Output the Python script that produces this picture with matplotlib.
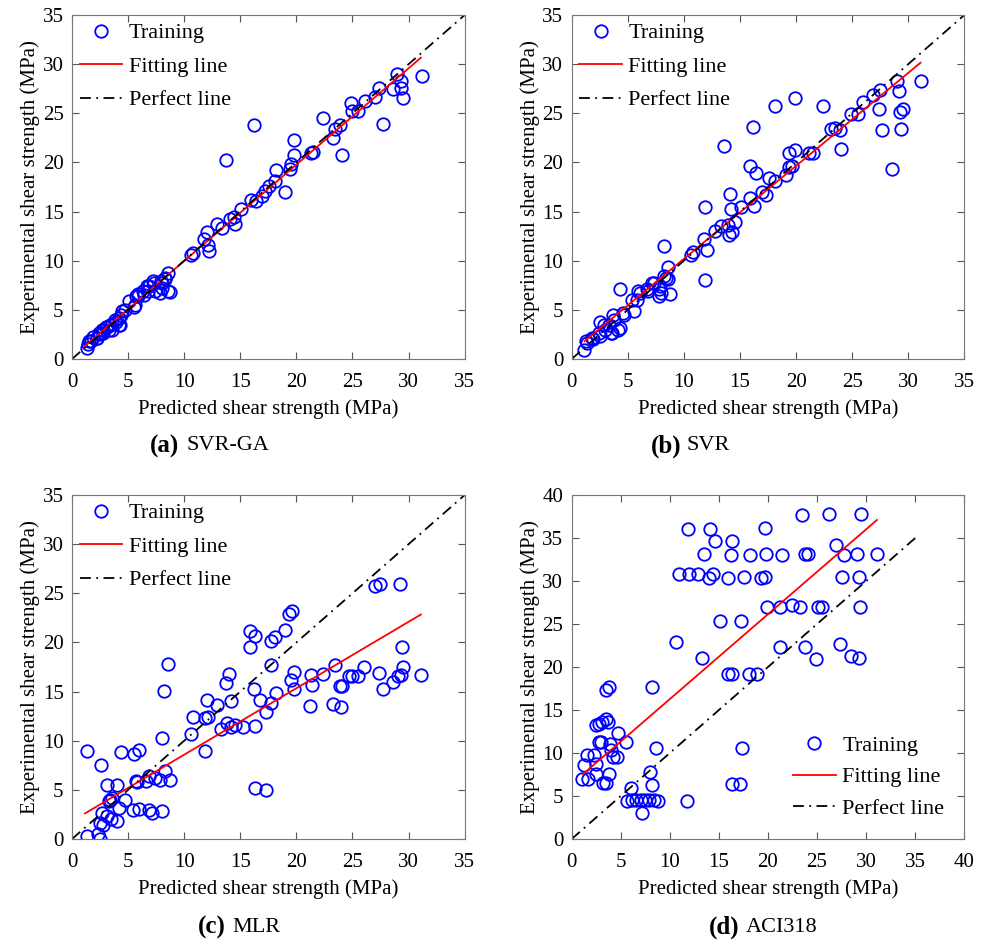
import numpy as np
import matplotlib.pyplot as plt

plt.rcParams['font.family'] = ['Liberation Serif', 'DejaVu Serif']

# (a) SVR-GA
x_svrga = [31.2, 29.0, 29.35, 29.35, 29.5, 28.6, 27.4, 27.0, 27.7, 26.1, 24.9, 25.5, 25.0,
           22.4, 24.1, 23.4, 23.9, 23.3, 21.5, 21.3, 19.8, 19.8, 19.5, 19.4, 19.0, 18.2,
           18.1, 17.6, 17.2, 16.9, 16.2, 16.4, 16.0, 15.1, 14.4, 14.5, 14.1, 13.7, 13.4,
           12.9, 12.0, 11.8, 12.1, 12.2, 10.8, 10.6, 8.6, 8.7, 8.3, 8.0, 7.8, 7.2, 6.9,
           6.3, 5.9, 5.7, 5.6, 5.1, 4.5, 4.4, 4.2, 3.8, 3.4, 3.1, 2.8, 2.5, 2.2, 1.7, 1.4,
           1.3, 1.5, 1.9, 2.4, 2.7, 3.0, 2.8, 3.3, 3.6, 3.9, 4.3, 4.15, 4.75, 5.5, 5.9,
           6.4, 6.8, 7.3, 7.4, 8.0, 8.3, 8.6, 7.9, 6.7, 3.6, 2.2]
y_svrga = [28.8, 29.0, 28.3, 27.6, 26.6, 27.5, 27.6, 26.7, 23.9, 26.3, 26.1, 25.2, 25.2,
           24.5, 20.8, 23.4, 23.8, 22.5, 21.1, 21.0, 22.3, 20.8, 19.8, 19.3, 17.0, 19.2,
           18.1, 17.6, 17.1, 16.6, 23.8, 16.1, 16.2, 15.3, 14.5, 13.7, 14.2, 20.2, 13.3,
           13.7, 12.9, 12.2, 11.6, 11.0, 10.8, 10.6, 8.8, 6.8, 8.2, 7.7, 6.7, 7.9, 7.4,
           6.9, 6.6, 6.4, 5.5, 5.9, 4.9, 4.5, 3.5, 4.0, 3.5, 3.3, 3.0, 2.5, 2.1, 1.8, 1.5,
           1.1, 1.8, 2.2, 2.6, 3.0, 3.3, 2.6, 3.0, 3.6, 3.8, 3.5, 4.15, 5.0, 5.3, 6.4,
           6.5, 6.9, 7.7, 6.9, 7.2, 8.1, 6.9, 7.9, 7.4, 3.0, 2.1]

# (b) SVR
x_svr = [31.1, 29.0, 29.2, 29.3, 29.55, 29.4, 28.6, 27.4, 27.7, 27.5, 26.9, 26.0, 25.5,
         24.9, 19.9, 18.1, 22.4, 16.2, 13.6, 24.05, 23.9, 23.45, 23.1, 21.5, 21.2, 19.9,
         19.4, 19.6, 19.4, 19.1, 18.1, 17.6, 17.35, 17.0, 15.9, 16.4, 15.9, 16.3, 15.1,
         14.1, 14.2, 14.6, 14.3, 13.9, 14.0, 13.3, 12.8, 11.9, 11.8, 12.1, 11.9, 10.8,
         10.6, 8.2, 8.6, 8.8, 8.4, 7.8, 7.8, 7.2, 6.7, 5.9, 5.6, 5.4, 4.3, 4.7, 4.3, 3.8,
         3.7, 3.5, 2.9, 2.5, 2.5, 1.9, 1.4, 1.1, 1.3, 1.8, 2.4, 3.0, 3.3, 3.6, 4.15, 4.6,
         5.8, 6.1, 6.8, 7.3, 7.9, 8.0, 8.6, 8.2]
y_svr = [28.3, 28.3, 27.3, 25.1, 25.4, 23.4, 19.3, 25.4, 23.3, 27.4, 26.9, 26.2, 24.9,
         24.9, 26.6, 25.7, 25.7, 23.6, 21.7, 21.4, 23.3, 23.5, 23.4, 21.0, 21.0, 21.3,
         21.0, 19.6, 19.5, 18.7, 18.1, 18.4, 16.7, 17.0, 19.6, 18.9, 16.4, 15.6, 15.5,
         16.8, 15.3, 13.9, 12.9, 13.6, 12.6, 13.5, 13.0, 15.5, 12.2, 11.1, 8.0, 10.9,
         10.6, 11.5, 9.4, 6.6, 8.2, 7.1, 6.45, 7.7, 7.1, 6.9, 4.85, 6.0, 7.1, 4.5, 3.2, 4.0,
         4.5, 2.6, 3.5, 3.8, 2.3, 2.0, 1.6, 0.95, 1.8, 2.1, 2.6, 2.95, 3.5, 2.6, 2.95, 4.7,
         6.0, 6.7, 6.9, 7.7, 7.4, 6.7, 8.1, 8.4]

# (c) MLR
x_mlr = [31.1, 29.2, 27.0, 27.5, 29.4, 29.5, 29.35, 29.1, 28.6, 27.7, 27.4, 26.0, 25.5,
         25.0, 24.7, 24.1, 23.9, 23.95, 23.3, 23.4, 22.4, 21.3, 21.4, 21.2, 19.8, 19.8,
         19.5, 19.6, 19.3, 18.95, 18.1, 17.7, 18.2, 17.7, 17.7, 17.3, 16.8, 15.9, 16.3,
         15.9, 16.2, 16.3, 16.3, 17.3, 14.0, 13.7, 14.2, 15.2, 14.5, 14.2, 13.8, 13.3,
         12.9, 12.0, 12.1, 11.9, 11.9, 10.8, 10.6, 8.6, 8.2, 8.0, 1.3, 2.6, 4.4, 5.5, 6.0,
         3.1, 4.0, 5.7, 6.6, 7.4, 7.8, 8.3, 8.7, 6.9, 4.7, 3.4, 4.2, 5.4, 6.0, 6.9, 7.1,
         8.0, 2.7, 3.1, 3.5, 4.0, 2.5, 2.8, 1.3, 2.5, 2.3, 5.8, 3.6, 3.3]
y_mlr = [16.7, 25.9, 25.7, 26.0, 19.5, 17.5, 16.7, 16.6, 16.0, 15.3, 16.9, 17.5, 16.6,
         16.6, 16.6, 15.6, 15.6, 13.4, 13.7, 17.7, 16.8, 16.7, 15.7, 13.5, 17.0, 15.3,
         16.2, 23.2, 22.9, 21.3, 20.6, 20.1, 14.9, 17.7, 13.8, 12.9, 14.1, 21.2, 20.7,
         19.5, 15.3, 11.5, 5.2, 5.0, 16.8, 15.9, 14.0, 11.4, 11.6, 11.4, 11.8, 11.2,
         13.6, 14.1, 12.4, 12.3, 9.0, 12.4, 10.7, 17.8, 15.1, 10.3, 9.0, 7.5, 8.9, 8.6, 9.1,
         5.5, 5.5, 5.9, 5.9, 6.2, 6.0, 6.9, 6.0, 6.4, 4.0, 4.0, 3.2, 3.0, 3.1, 2.9, 2.6,
         2.8, 2.6, 2.3, 2.0, 1.8, 1.6, 1.4, 0.3, 0.0, 0.5, 5.8, 4.2, 3.9]

# (d) ACI318
x_aci = [23.5, 26.2, 29.5, 11.9, 14.1, 19.7, 14.6, 16.3, 26.9, 13.5, 16.2, 18.2, 19.8,
         21.4, 23.8, 24.1, 27.7, 29.1, 31.1, 10.9, 12.0, 12.9, 14.0, 14.4, 15.9, 17.6,
         19.3, 19.7, 27.5, 29.3, 19.9, 21.2, 22.4, 23.3, 25.1, 25.5, 29.4, 15.1, 17.3,
         10.6, 13.3, 21.2, 23.8, 24.9, 27.3, 28.5, 29.3, 15.9, 16.3, 18.1, 18.9, 3.5, 3.8,
         8.2, 8.6, 17.4, 16.3, 17.2, 11.8, 8.0, 8.2, 7.2, 5.6, 6.1, 6.6, 7.1, 7.5, 7.9,
         8.4, 8.8, 6.0, 1.3, 1.05, 1.7, 2.5, 2.5, 3.2, 3.5, 3.8, 2.3, 2.5, 2.8, 3.5, 3.7,
         2.8, 3.0, 3.9, 4.0, 4.2, 4.6, 4.7, 5.5, 3.1, 1.6]
y_aci = [37.7, 37.8, 37.8, 36.0, 36.0, 36.2, 34.6, 34.6, 34.2, 33.1, 33.0, 33.0, 33.1,
         33.0, 33.2, 33.1, 33.0, 33.1, 33.1, 30.8, 30.8, 30.8, 30.3, 30.8, 30.4, 30.5,
         30.4, 30.5, 30.5, 30.5, 27.0, 27.0, 27.2, 27.0, 27.0, 27.0, 27.0, 25.4, 25.4,
         22.9, 21.1, 22.3, 22.3, 20.9, 22.7, 21.3, 21.1, 19.2, 19.2, 19.2, 19.2, 17.3,
         17.7, 17.7, 10.6, 10.6, 6.4, 6.4, 4.4, 7.8, 6.3, 3.0, 4.4, 4.5, 4.5, 4.5, 4.5,
         4.5, 4.5, 4.4, 5.9, 8.6, 7.0, 7.0, 8.7, 7.6, 6.5, 6.5, 7.6, 9.8, 13.3, 13.4, 14.0,
         13.6, 11.3, 11.3, 11.1, 10.4, 9.5, 9.5, 12.3, 11.3, 13.6, 9.8]

# fitting lines: slope, intercept
fits = {'a': (0.980, 0.18), 'b': (0.946, 0.73), 'c': (0.676, 1.82), 'd': (0.987, 6.4)}
fit_x = [1.15, 31.1]

panels = [
    ('a', 'SVR-GA', x_svrga, y_svrga, 35, 'upper left'),
    ('b', 'SVR', x_svr, y_svr, 35, 'upper left'),
    ('c', 'MLR', x_mlr, y_mlr, 35, 'upper left'),
    ('d', 'ACI318', x_aci, y_aci, 40, 'lower right'),
]
boxes = [(0.0728, 0.6185), (0.578, 0.6185), (0.0728, 0.1084), (0.578, 0.1084)]
captions = [(179, 186, 446), (681, 687, 446), (226, 232, 927), (740, 746, 927)]

fig = plt.figure(figsize=(9.89, 9.41), dpi=100)

for (key, name, xs, ys, lim, loc), (l, b), (cx1, cx2, cy) in zip(panels, boxes, captions):
    ax = fig.add_axes([l, b, 0.397, 0.3655])
    ax.plot(xs, ys, 'o', mfc='none', mec='blue', ms=9, mew=1.3, label='Training')
    k, c0 = fits[key]
    fx = np.array(fit_x)
    ax.plot(fx, k * fx + c0, color='red', lw=1.3, label='Fitting line')
    ax.plot([0, 35], [0, 35], color='black', lw=1.3, ls=(0, (6, 3, 1, 3)), label='Perfect line')
    ax.set_xlim(0, lim)
    ax.set_ylim(0, lim)
    ax.set_xticks(np.arange(0, lim + 1, 5))
    ax.set_yticks(np.arange(0, lim + 1, 5))
    ax.tick_params(direction='in', top=True, right=True, labelsize=15, length=5,
                   color='#555555')
    ax.tick_params(axis='x', pad=10)
    ax.tick_params(axis='y', pad=6)
    for s in ax.spines.values():
        s.set_color('#777777')
    ax.set_xlabel('Predicted shear strength (MPa)', fontsize=15, labelpad=5)
    ax.set_ylabel('Experimental shear strength (MPa)', fontsize=15, labelpad=2)
    if loc == 'upper left':
        ax.legend(loc=loc, frameon=False, fontsize=16, handlelength=1.9,
                  handletextpad=0.3, labelspacing=0.58, borderaxespad=0.1, borderpad=0.25)
    else:
        ax.legend(loc=loc, frameon=False, fontsize=16, handlelength=1.9,
                  handletextpad=0.3, labelspacing=0.5, borderaxespad=0.5, borderpad=0.4)
    fig.text(cx1 / 989, 1 - cy / 941, '(%s)' % key, weight='bold', fontsize=18,
             ha='right', va='center')
    fig.text(cx2 / 989, 1 - cy / 941, name, fontsize=16, ha='left', va='center')

fig.savefig('out.png', dpi=100)
